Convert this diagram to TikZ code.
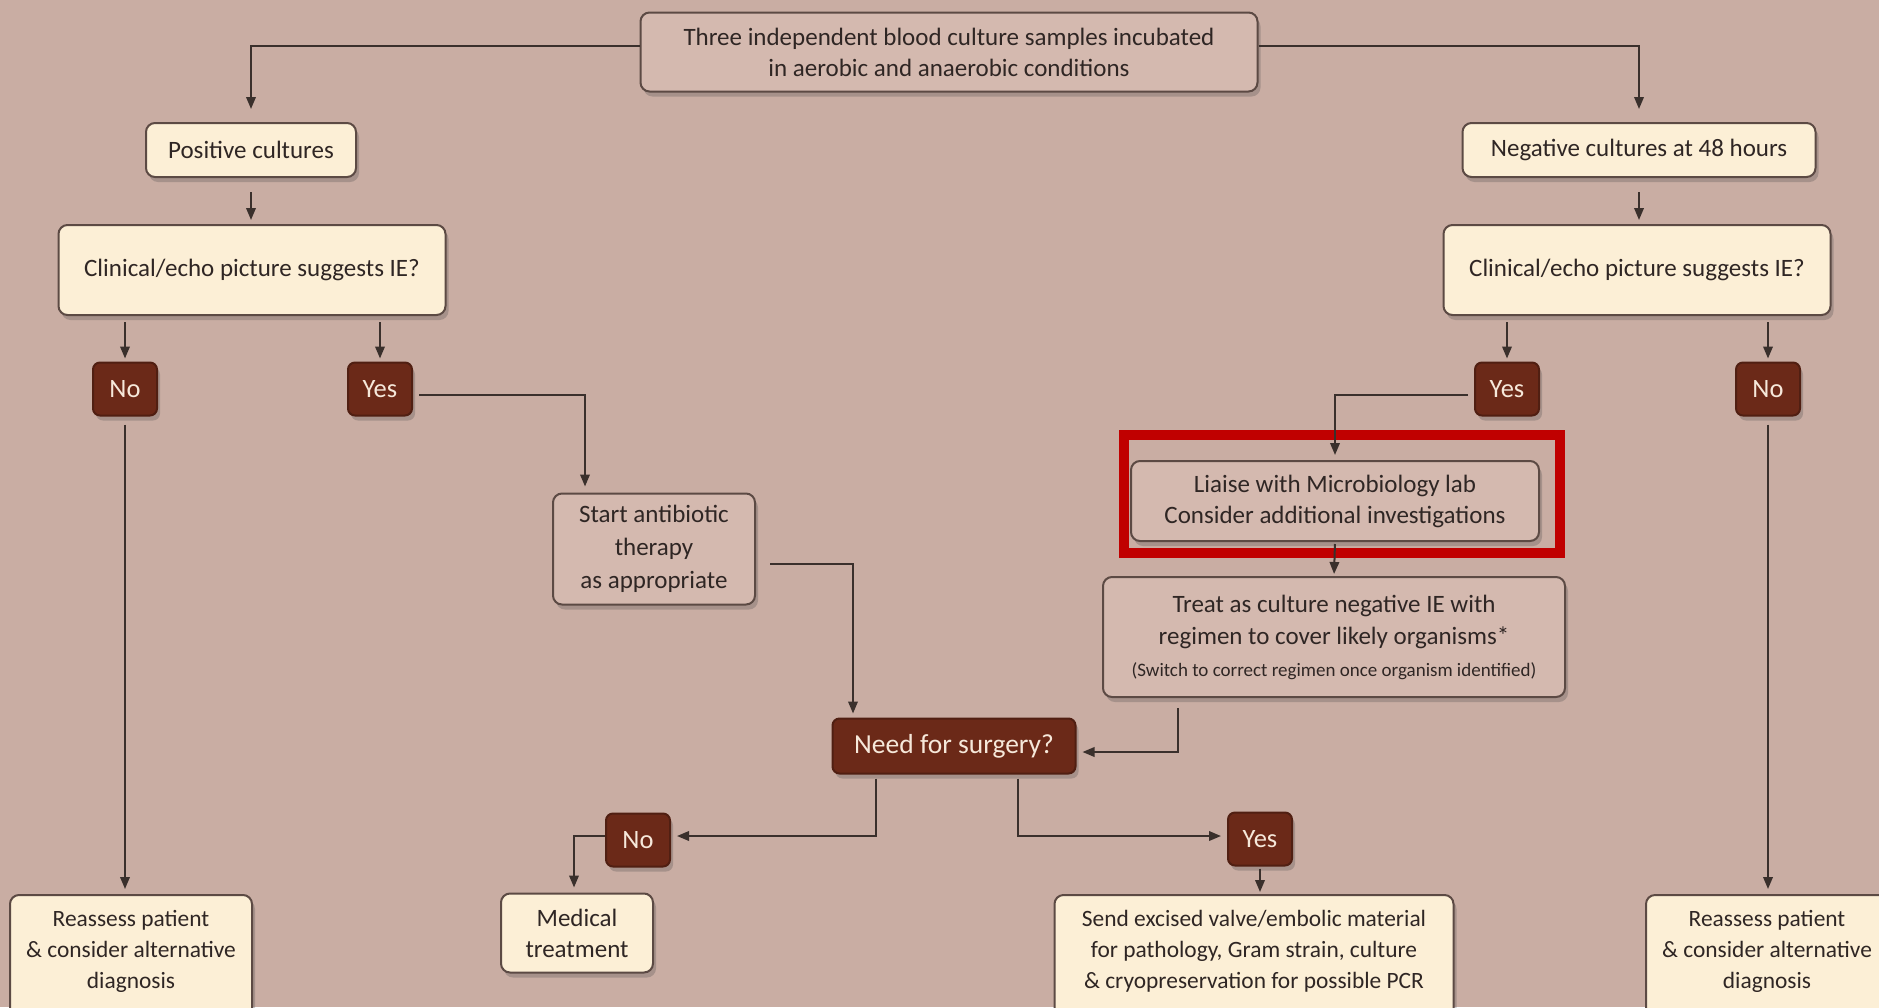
\documentclass[tikz,border=0pt]{standalone}
\usepackage{fontspec}
\setmainfont{Carlito}
\usetikzlibrary{arrows.meta,shadows,calc}
\definecolor{bg}{HTML}{C9ADA3}
\definecolor{cream}{HTML}{FCEFD6}
\definecolor{rose}{HTML}{D4B9AF}
\definecolor{darkbx}{HTML}{6B2918}
\definecolor{edge}{HTML}{5C4A44}
\definecolor{ink}{HTML}{2F2624}
\definecolor{lin}{HTML}{3A302C}
\definecolor{hl}{HTML}{C00000}
\definecolor{lighttxt}{HTML}{F6E8DA}
\tikzset{
  base/.style={rounded corners=9pt, draw=edge, line width=2pt,
    font=\fontsize{25}{31}\selectfont, text=ink, align=center, inner sep=0pt,
    drop shadow={shadow xshift=3pt,shadow yshift=-5pt,opacity=0.28,fill=black!70}},
  creambox/.style={base, fill=cream},
  rosebox/.style={base, fill=rose},
  darkbox/.style={base, fill=darkbx, draw=darkbx!75!black, text=lighttxt, rounded corners=7pt,
    font=\fontsize{26.5}{31}\selectfont},
  yn/.style={darkbox, minimum width=64pt, minimum height=53pt},
  bottombox/.style={creambox, anchor=north, inner ysep=15pt, text depth=120pt,
    font=\fontsize{23.4}{31}\selectfont},
  arr/.style={draw=lin, line width=2pt, -{Triangle[length=12pt,width=9.5pt]}},
}
\begin{document}
\begin{tikzpicture}[x=1pt,y=-1pt]
\useasboundingbox (0,0) rectangle (1879,1007);
\clip (0,0) rectangle (1879,1007);
\fill[bg] (0,0) rectangle (1879,1007);

% nodes
\node[rosebox, minimum width=617pt, minimum height=79pt] (top) at (949,52)
  {Three independent blood culture samples incubated\\in aerobic and anaerobic conditions};
\node[creambox, minimum width=210pt, minimum height=54pt] (pos) at (251,150) {Positive cultures};
\node[creambox, minimum width=387pt, minimum height=90pt] (clinL) at (252,270) {Clinical/echo picture suggests IE?};
\node[yn] (noL) at (125,389) {No};
\node[yn] (yesL) at (380,389) {Yes};
\node[rosebox, minimum width=202pt, minimum height=111pt, font=\fontsize{25}{33}\selectfont] (start) at (654,549)
  {Start antibiotic\\therapy\\as appropriate};
\node[darkbox, minimum width=243pt, minimum height=55pt, font=\fontsize{27.5}{31}\selectfont] (need) at (954,746) {Need for surgery?};
\node[creambox, minimum width=353pt, minimum height=54pt] (negR) at (1639,150) {Negative cultures at 48 hours};
\node[creambox, minimum width=387pt, minimum height=90pt] (clinR) at (1637,270) {Clinical/echo picture suggests IE?};
\node[yn] (yesR) at (1507,389) {Yes};
\node[yn] (noR) at (1768,389) {No};
\node[rosebox, minimum width=408pt, minimum height=80pt] (liaise) at (1335,501)
  {Liaise with Microbiology lab\\Consider additional investigations};
\node[rosebox, minimum width=462pt, minimum height=120pt, font=\fontsize{25}{32}\selectfont] (treat) at (1334,637)
  {Treat as culture negative IE with\\regimen to cover likely organisms*\\{\fontsize{19}{22}\selectfont (Switch to correct regimen once organism identified)}};
\node[yn] (noB) at (638,840) {No};
\node[yn] (yesB) at (1260,839) {Yes};
\node[creambox, minimum width=152pt, minimum height=79pt] (medical) at (577,933) {Medical\\treatment};
\node[bottombox, minimum width=242pt] (reasL) at (131,894) {Reassess patient\\\& consider alternative\\diagnosis};
\node[bottombox, minimum width=399pt] (send) at (1254,894)
  {Send excised valve/embolic material\\for pathology, Gram strain, culture\\\& cryopreservation for possible PCR};
\node[bottombox, minimum width=242pt] (reasR) at (1767,894) {Reassess patient\\\& consider alternative\\diagnosis};

% highlight
\draw[hl, line width=10pt] (1124,435) rectangle (1560,553);

% connectors
\draw[arr, shorten >=13pt] ($(top.west)+(0,-6)$) -| (pos.north);
\draw[arr, shorten >=13pt] ($(top.east)+(0,-6)$) -| (negR.north);
\draw[arr, shorten <=14pt, shorten >=4pt] (pos.south) -- (pos.south |- clinL.north);
\draw[arr, shorten <=14pt, shorten >=4pt] (negR.south) -- (negR.south |- clinR.north);
\draw[arr, shorten <=6pt, shorten >=3pt] (noL.north |- clinL.south) -- (noL.north);
\draw[arr, shorten <=6pt, shorten >=3pt] (yesL.north |- clinL.south) -- (yesL.north);
\draw[arr, shorten <=6pt, shorten >=3pt] (yesR.north |- clinR.south) -- (yesR.north);
\draw[arr, shorten <=6pt, shorten >=3pt] (noR.north |- clinR.south) -- (noR.north);
\draw[arr] ($(yesL.east)+(6,6)$) -| ($(start.north)+(-69,-6)$);
\draw[arr] ($(start.east)+(14,15)$) -| ($(need.north)+(-101,-4)$);
\draw[arr] ($(treat.south)+(-156,10)$) |- ($(need.east)+(6,6)$);
\draw[arr] ($(need.south)+(-78,4)$) |- ($(noB.east)+(6,-4)$);
\draw[arr] ($(noB.west)+(0,-4)$) -| ($(medical.north)+(-3,-5)$);
\draw[arr] ($(need.south)+(64,4)$) |- ($(yesB.west)+(-6,-3)$);
\draw[arr, shorten <=2pt, shorten >=2pt] (yesB.south) -- (yesB.south |- send.north);
\draw[arr] ($(yesR.west)+(-6,6)$) -| ($(liaise.north)+(0,-5)$);
\draw[arr, shorten <=2pt, shorten >=2pt] (liaise.south) -- (treat.north);
\draw[arr, shorten <=8pt, shorten >=5pt] (noL.south) -- (noL.south |- reasL.north);
\draw[arr, shorten <=8pt, shorten >=5pt] (noR.south) -- (noR.south |- reasR.north);
\end{tikzpicture}
\end{document}
